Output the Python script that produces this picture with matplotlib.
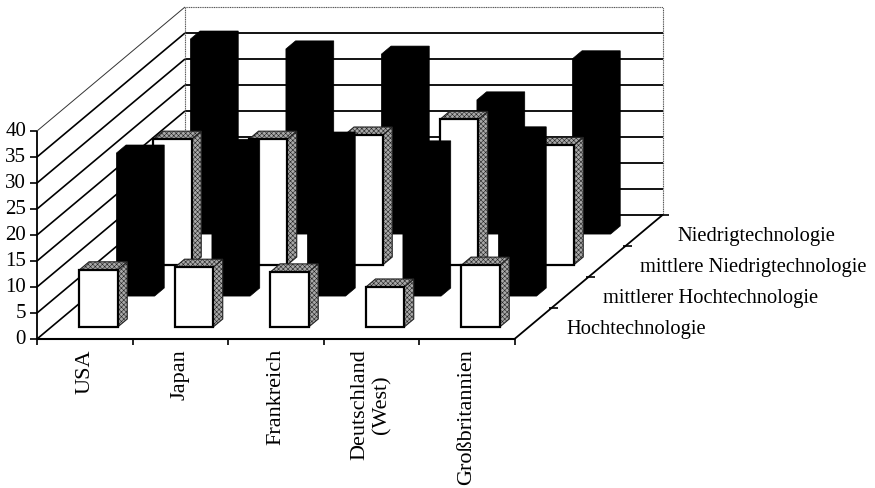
import matplotlib
matplotlib.use("Agg")
import matplotlib.pyplot as plt
from matplotlib.patches import Polygon

countries = ["USA", "Japan", "Frankreich", "Deutschland\n(West)", "Großbritannien"]
series_names = ["Hochtechnologie", "mittlerer Hochtechnologie",
                "mittlere Niedrigtechnologie", "Niedrigtechnologie"]
hoch = [11.0, 11.5, 10.6, 7.7, 11.9]
mittel_hoch = [27.5, 28.6, 30.0, 28.3, 31.0]
mittel_niedrig = [24.2, 24.2, 25.0, 28.0, 23.0]
niedrig = [37.5, 35.6, 34.6, 25.8, 33.7]
y_ticks = [0, 5, 10, 15, 20, 25, 30, 35, 40]

# Schraegprojektion auf Bildpixel
X0, Y0 = 37.0, 340.0
CAT_W = 95.5
UNIT = 5.2
DEPTH_X, DEPTH_Y = 37.0, -31.0


def proj(c, d, v):
    # c = Land, d = Reihe, v = Wert
    return (X0 + c * CAT_W + d * DEPTH_X, Y0 + d * DEPTH_Y - v * UNIT)


fig = plt.figure(figsize=(8.75, 4.89), dpi=100)
ax = fig.add_axes([0, 0, 1, 1])
ax.set_xlim(0, 875)
ax.set_ylim(489, 0)
ax.axis("off")
plt.rcParams["hatch.linewidth"] = 0.4
FONT = dict(family="Liberation Serif", color="black")

n_cat = len(countries)
n_ser = len(series_names)


def line(a, b, lw=1.0, color="black", ls="-", z=1):
    ax.plot([a[0], b[0]], [a[1], b[1]], color=color, lw=lw, ls=ls, zorder=z,
            solid_capstyle="butt")


# Waende und Gitter
for v in y_ticks[:-1]:
    line(proj(0, 0, v), proj(0, n_ser, v), lw=1.2)
    line(proj(0, n_ser, v), proj(n_cat, n_ser, v), lw=1.3)
line(proj(0, 0, 40), proj(0, n_ser, 40), lw=0.7, color="#333333")
line(proj(0, n_ser, 40), proj(n_cat, n_ser, 40), lw=0.8, color="#555555", ls=(0, (1, 0.6)))
line(proj(0, n_ser, 0), proj(0, n_ser, 40), lw=0.8, color="#555555", ls=(0, (1, 0.6)))
line(proj(n_cat, n_ser, 0), proj(n_cat, n_ser, 40), lw=0.8, color="#555555", ls=(0, (1, 0.6)))

# Achsen
line(proj(0, 0, 0), proj(0, 0, 40), lw=1.3, z=1.5)
line(proj(0, 0, 0), proj(n_cat, 0, 0), lw=1.5, z=1.5)
line(proj(n_cat, 0, 0), proj(n_cat, n_ser, 0), lw=1.3, z=1.5)
for v in y_ticks:
    x, y = proj(0, 0, v)
    line((x - 7, y), (x, y), lw=1.2)
    ax.text(x - 11, y, str(v), ha="right", va="center", fontsize=15, **FONT)
for c in range(n_cat + 1):
    x, y = proj(c, 0, 0)
    line((x, y), (x, y + 6), lw=1.2)
for d in range(1, n_ser + 1):
    x, y = proj(n_cat, d, 0)
    line((x - 3, y), (x + 6, y), lw=1.2)

# Balken, von hinten nach vorne
rows = [hoch, mittel_hoch, mittel_niedrig, niedrig]
BAR_L, BAR_R = 0.295, 0.695
BAR_F, BAR_B = 0.385, 0.645
for d in range(n_ser - 1, -1, -1):
    dark = d % 2 == 1
    for c, v in enumerate(rows[d]):
        fl0 = proj(c + BAR_L, d + BAR_F, 0)
        fr0 = proj(c + BAR_R, d + BAR_F, 0)
        fl1 = proj(c + BAR_L, d + BAR_F, v)
        fr1 = proj(c + BAR_R, d + BAR_F, v)
        br0 = proj(c + BAR_R, d + BAR_B, 0)
        br1 = proj(c + BAR_R, d + BAR_B, v)
        bl1 = proj(c + BAR_L, d + BAR_B, v)
        z = 3 + (n_ser - d)
        if dark:
            ax.add_patch(Polygon([fl0, fr0, br0, br1, bl1, fl1], fc="black", ec="black",
                                 lw=0.5, zorder=z))
        else:
            ax.add_patch(Polygon([fr0, br0, br1, fr1], fc="#a8a8a8", ec="#222222", lw=0.8,
                                 hatch="xxxxxxx", zorder=z))
            ax.add_patch(Polygon([fl1, fr1, br1, bl1], fc="#a8a8a8", ec="#222222", lw=0.8,
                                 hatch="xxxxxxx", zorder=z))
            ax.add_patch(Polygon([fl0, fr0, fr1, fl1], fc="white", ec="black", lw=1.6,
                                 joinstyle="miter", zorder=z + 0.1))

# Beschriftung
for c, name in enumerate(countries):
    x, y = proj(c + 0.5, 0, 0)
    ax.text(x, y + 9, name, rotation=90, ha="center", va="top", multialignment="center",
            linespacing=1.2, fontsize=16, **FONT)

for d, name in enumerate(series_names):
    x, y = proj(n_cat, d + 0.5, 0)
    ax.text(x + 33, y + 5, name, ha="left", va="center", fontsize=14.8, **FONT)

fig.savefig("out.png", dpi=100)
